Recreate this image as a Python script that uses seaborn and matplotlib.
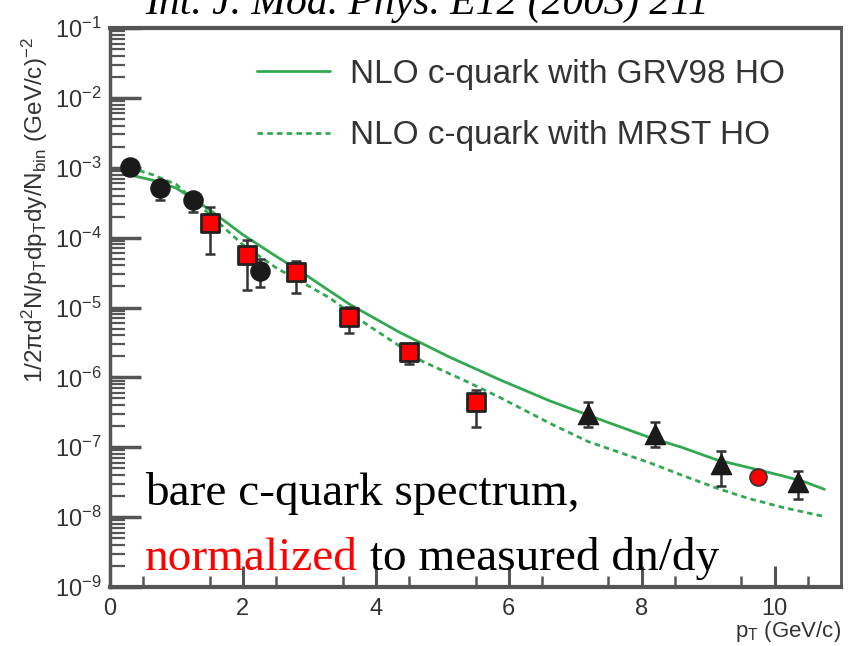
import numpy as np
import pandas as pd
import matplotlib
matplotlib.use("Agg")
import matplotlib.pyplot as plt
import seaborn as sns
from matplotlib.ticker import LogLocator, FixedLocator, NullFormatter

# ---------------- data ----------------
grv_pt = [0.3, 0.65, 1.0, 1.5, 2.0, 2.5, 3.0, 3.6, 4.36, 5.11, 5.86, 6.62, 7.37,
          8.12, 8.6, 9.13, 9.62, 10.12, 10.45, 10.75]
grv_val = [7.9e-4, 6.6e-4, 5.1e-4, 2.5e-4, 1.1e-4, 5.4e-5, 2.7e-5, 1.12e-5, 4.4e-6,
           1.95e-6, 9.3e-7, 4.6e-7, 2.5e-7, 1.38e-7, 1.0e-7, 6.6e-8, 5.1e-8, 3.9e-8,
           3.2e-8, 2.5e-8]
mrst_pt = [0.3, 0.65, 1.0, 1.5, 2.0, 2.5, 3.0, 3.3, 3.86, 4.36, 4.7, 5.37, 5.86, 6.62,
           7.2, 8.12, 8.6, 9.13, 9.6, 10.12, 10.75]
mrst_val = [1.0e-3, 7.9e-4, 5.75e-4, 2.14e-4, 7.9e-5, 3.7e-5, 2.0e-5, 1.38e-5, 5.75e-6,
            2.8e-6, 1.7e-6, 8.7e-7, 5.2e-7, 2.2e-7, 1.2e-7, 6.0e-8, 4.0e-8, 2.6e-8,
            1.86e-8, 1.38e-8, 1.02e-8]

circ_pt = [0.3, 0.75, 1.25, 2.25]
circ_val = [1.02e-3, 5.2e-4, 3.4e-4, 3.3e-5]
circ_lo = [7.9e-4, 3.5e-4, 2.3e-4, 1.95e-5]
circ_hi = [1.1e-3, 5.5e-4, 3.6e-4, 4.9e-5]

sq_pt = [1.5, 2.06, 2.8, 3.6, 4.5, 5.5]
sq_val = [1.6e-4, 5.7e-5, 3.2e-5, 7.4e-6, 2.3e-6, 4.4e-7]
sq_lo = [5.8e-5, 1.8e-5, 1.6e-5, 4.3e-6, 1.55e-6, 1.95e-7]
sq_hi = [2.7e-4, 9.3e-5, 4.6e-5, 1.02e-5, 2.5e-6, 6.5e-7]

tri_pt = [7.2, 8.2, 9.2, 10.35]
tri_val = [2.95e-7, 1.55e-7, 5.75e-8, 3.2e-8]
tri_lo = [1.95e-7, 1.0e-7, 2.75e-8, 1.8e-8]
tri_hi = [4.4e-7, 2.3e-7, 8.7e-8, 4.6e-8]

rc_pt = [9.75]
rc_val = [3.7e-8]

x_ticks = [0, 2, 4, 6, 8, 10]
y_decades = [1e-9, 1e-8, 1e-7, 1e-6, 1e-5, 1e-4, 1e-3, 1e-2, 1e-1]
y_ticklabels = [r'$10^{-9}$', r'$10^{-8}$', r'$10^{-7}$', r'$10^{-6}$', r'$10^{-5}$',
                r'$10^{-4}$', r'$10^{-3}$', r'$10^{-2}$', r'$10^{-1}$']
legend_labels = ['NLO c-quark with GRV98 HO', 'NLO c-quark with MRST HO']

# ---------------- style ----------------
sns.set_theme(style='white')
plt.rcParams['font.family'] = ['Liberation Sans', 'DejaVu Sans']
plt.rcParams['mathtext.fontset'] = 'custom'
plt.rcParams['mathtext.rm'] = 'Liberation Sans'
plt.rcParams['mathtext.it'] = 'Liberation Sans:italic'
plt.rcParams['mathtext.default'] = 'regular'

fig = plt.figure(figsize=(8.5, 6.46), dpi=100)
ax = fig.add_axes([110 / 850, 1 - 587 / 646, (841 - 110) / 850, (587 - 28) / 646])

green = '#33a852'
df_grv = pd.DataFrame({'pt': grv_pt, 'val': grv_val})
df_mrst = pd.DataFrame({'pt': mrst_pt, 'val': mrst_val})
sns.lineplot(data=df_grv, x='pt', y='val', ax=ax, color=green, lw=2.0,
             label=legend_labels[0], zorder=2)
sns.lineplot(data=df_mrst, x='pt', y='val', ax=ax, color=green, lw=2.0,
             label=legend_labels[1], zorder=2)
ax.lines[1].set_dashes([2.0, 1.5])

ax.set_yscale('log')
ax.set_xlim(0, 11)
ax.set_ylim(1e-9, 1e-1)

errc = '#333333'
def errs(v, lo, hi):
    v = np.array(v); return [v - np.array(lo), np.array(hi) - v]

for xs, vs, lo, hi in [(circ_pt, circ_val, circ_lo, circ_hi),
                       (sq_pt, sq_val, sq_lo, sq_hi),
                       (tri_pt, tri_val, tri_lo, tri_hi)]:
    ax.errorbar(xs, vs, yerr=errs(vs, lo, hi), fmt='none', ecolor=errc,
                elinewidth=1.8, capsize=3.5, capthick=1.8, zorder=3)

sns.scatterplot(x=circ_pt, y=circ_val, ax=ax, marker='o', s=190, color='#1a1a1a',
                edgecolor='#1a1a1a', linewidth=1, zorder=4, legend=False)
sns.scatterplot(x=sq_pt, y=sq_val, ax=ax, marker='s', s=170, color='#ff0000',
                edgecolor='#222222', linewidth=2, zorder=4, legend=False)
sns.scatterplot(x=tri_pt, y=tri_val, ax=ax, marker='^', s=210, color='#1a1a1a',
                edgecolor='#1a1a1a', linewidth=1, zorder=4, legend=False)
sns.scatterplot(x=rc_pt, y=rc_val, ax=ax, marker='o', s=150, color='#ff0000',
                edgecolor='#333333', linewidth=1.2, zorder=4, legend=False)

# ticks
ax.yaxis.set_major_locator(FixedLocator(y_decades))
ax.set_yticklabels(y_ticklabels)
ax.yaxis.set_minor_locator(LogLocator(base=10, subs=np.arange(2, 10), numticks=20))
ax.yaxis.set_minor_formatter(NullFormatter())
ax.set_xticks(x_ticks)
ax.set_xticklabels([str(t) for t in x_ticks])
ax.set_xticks(np.arange(0.5, 11, 1.0), minor=True)

spc = '#555555'
ax.tick_params(axis='y', which='both', left=True, right=False)
ax.tick_params(axis='x', which='both', bottom=True, top=False)
ax.tick_params(axis='y', which='major', direction='in', length=22, width=2.5, color=spc,
               labelsize=17, labelcolor='#333333', pad=6)
ax.tick_params(axis='y', which='minor', direction='in', length=11, width=1.6, color=spc)
ax.tick_params(axis='x', which='major', direction='in', length=15, width=2.2, color=spc,
               labelsize=17, labelcolor='#333333', pad=8)
ax.tick_params(axis='x', which='minor', direction='in', length=8, width=1.8, color=spc)

for side, w in [('left', 2.5), ('bottom', 3.0), ('top', 3.0), ('right', 2.0)]:
    ax.spines[side].set_visible(True)
    ax.spines[side].set_color(spc)
    ax.spines[side].set_linewidth(w)

ax.set_xlabel('')
ax.set_ylabel('')
fig.text(841 / 850, 1 - 632 / 646, r'p$_{\rm T}$ (GeV/c)', ha='right', va='center',
         fontsize=16, color='#333333')
fig.text(35 / 850, 1 - 210 / 646,
         r'1/2$\pi$d$^{2}$N/p$_{\rm T}$dp$_{\rm T}$dy/N$_{\rm bin}$ (GeV/c)$^{-2}$',
         rotation=90, ha='center', va='center', fontsize=17.5, color='#333333')

leg = ax.legend(loc='upper left', bbox_to_anchor=(240 / 850, 1 - 42 / 646),
                bbox_transform=fig.transFigure, frameon=False, fontsize=24,
                handlelength=2.2, handletextpad=0.6, labelspacing=0.92, borderpad=0)
for t in leg.get_texts():
    t.set_color('#333333')

# annotations
fig.text(145 / 850, 1 - 14 / 646, 'Int. J. Mod. Phys. E12 (2003) 211', ha='left',
         va='baseline', fontsize=30, style='italic', family='Liberation Serif', color='black')
fig.text(145 / 850, 1 - 505 / 646, 'bare c-quark spectrum,', ha='left', va='baseline',
         fontsize=34, family='Liberation Serif', color='black')
t1 = fig.text(145 / 850, 1 - 570 / 646, 'normalized', ha='left', va='baseline',
              fontsize=34, family='Liberation Serif', color='#ff0000')
fig.canvas.draw()
bb = t1.get_window_extent()
fig.text(bb.x1 / fig.bbox.width, 1 - 570 / 646, ' to measured dn/dy', ha='left',
         va='baseline', fontsize=34, family='Liberation Serif', color='black')

fig.savefig('out.png', dpi=100)
